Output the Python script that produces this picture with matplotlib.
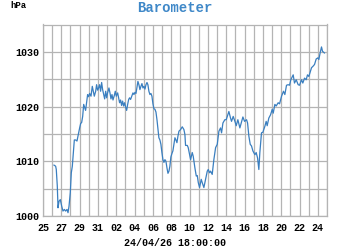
import datetime as dt
import matplotlib
matplotlib.use("Agg")
import matplotlib.pyplot as plt
import matplotlib.dates as mdates
from matplotlib.ticker import MultipleLocator

# ---- data (days since 2026-03-25 00:00, pressure in hPa) ----
days = [1.20, 1.38, 1.45, 1.56, 1.64, 1.75, 1.89, 2.04, 2.18, 2.33, 2.47, 2.62, 2.73, 2.84, 2.98,
        3.09, 3.20, 3.31, 3.42, 3.56, 3.71, 3.85, 4.00, 4.11, 4.22, 4.33, 4.44, 4.55, 4.65, 4.76,
        4.87, 4.98, 5.09, 5.24, 5.38, 5.49, 5.60, 5.75, 5.85, 5.96, 6.07, 6.18, 6.29, 6.40, 6.51,
        6.62, 6.73, 6.84, 6.95, 7.05, 7.20, 7.31, 7.42, 7.53, 7.64, 7.78, 7.89, 8.00, 8.15, 8.25,
        8.36, 8.47, 8.58, 8.69, 8.80, 8.91, 9.02, 9.13, 9.24, 9.35, 9.45, 9.56, 9.67, 9.82, 9.93,
        10.04, 10.15, 10.25, 10.36, 10.47, 10.58, 10.69, 10.80, 10.91, 11.02, 11.13, 11.24, 11.35,
        11.45, 11.56, 11.67, 11.78, 11.89, 12.00, 12.11, 12.22, 12.33, 12.44, 12.55, 12.65, 12.76,
        12.87, 12.98, 13.09, 13.20, 13.31, 13.42, 13.53, 13.64, 13.75, 13.85, 13.96, 14.07, 14.18,
        14.29, 14.40, 14.51, 14.62, 14.73, 14.84,
        15.02, 15.20, 15.38, 15.49, 15.56, 15.75, 15.85, 16.11, 16.29, 16.40, 16.58, 16.73, 16.84,
        16.95, 17.09, 17.27, 17.38, 17.56, 17.75, 17.93, 18.04, 18.18, 18.29, 18.47, 18.65, 18.84,
        19.02, 19.20, 19.38, 19.49, 19.64, 19.85, 20.00, 20.29, 20.47, 20.58, 20.76, 20.95, 21.09,
        21.27, 21.49, 21.64, 21.82, 22.00, 22.22, 22.33, 22.47, 22.62, 22.76, 22.91, 23.13, 23.27,
        23.42, 23.56, 23.67, 23.85, 24.00, 24.22, 24.36, 24.47, 24.65, 24.84, 25.02, 25.13, 25.31,
        25.45, 25.67, 25.82, 26.04, 26.25, 26.40, 26.58, 26.76, 26.91, 27.05, 27.31, 27.45, 27.64,
        27.85, 28.00, 28.22, 28.36, 28.55, 28.73, 28.87, 29.02, 29.31, 29.49, 29.64, 29.82, 30.00,
        30.11, 30.25, 30.40, 30.51, 30.72]

pressure = [1009.3, 1009.1, 1008.5, 1005.5, 1001.5, 1002.7, 1003.0, 1001.8, 1000.9, 1001.2, 1000.9,
            1001.2, 1000.6, 1001.8, 1004.3, 1007.9, 1009.1, 1011.5, 1013.9, 1013.9, 1013.7, 1014.9,
            1016.1, 1016.9, 1017.1, 1018.2, 1020.4, 1019.8, 1019.3, 1020.7, 1022.2, 1021.8, 1022.4,
            1021.9, 1023.7, 1022.8, 1021.9, 1022.8, 1024.0, 1023.0, 1023.4, 1024.0, 1022.8, 1024.4,
            1023.1, 1022.2, 1021.4, 1022.8, 1021.6, 1022.5, 1023.4, 1022.5, 1021.4, 1022.2, 1021.2,
            1022.0, 1022.8, 1021.9, 1022.5, 1021.6, 1020.7, 1021.2, 1020.2, 1021.0, 1020.1, 1020.7,
            1019.9, 1019.3, 1020.4, 1021.3, 1021.6, 1021.3, 1021.8, 1022.5, 1022.2, 1022.6, 1022.4,
            1023.4, 1024.6, 1024.0, 1023.1, 1023.7, 1024.2, 1023.4, 1023.7, 1023.2, 1024.0, 1024.4,
            1024.0, 1022.8, 1022.2, 1022.4, 1021.9, 1020.5, 1019.6, 1019.5, 1019.0, 1017.6, 1015.8,
            1014.3, 1013.9, 1013.1, 1011.6, 1010.3, 1009.8, 1010.3, 1010.0, 1008.8, 1007.8, 1008.2,
            1009.1, 1010.8, 1011.4, 1011.9, 1013.1, 1014.3, 1013.9, 1013.4, 1014.6, 1015.5,
            1015.8, 1016.3, 1015.8, 1014.9, 1012.9, 1012.9, 1012.5, 1010.3, 1011.6, 1010.9, 1008.8,
            1007.3, 1007.4, 1006.1, 1005.2, 1006.7, 1006.1, 1005.2, 1006.7, 1008.2, 1008.5, 1007.9,
            1008.2, 1007.6, 1010.3, 1012.5, 1013.1, 1015.5, 1016.1, 1015.2, 1017.0, 1017.6, 1017.6,
            1019.1, 1017.9, 1017.3, 1018.2, 1017.3, 1016.5, 1017.6, 1016.1, 1017.0, 1018.1, 1017.3,
            1017.6, 1017.0, 1014.6, 1013.1, 1012.8, 1011.9, 1011.2, 1011.6, 1010.6, 1008.5, 1011.6,
            1015.2, 1015.3, 1016.4, 1017.3, 1016.5, 1017.9, 1018.5, 1019.5, 1018.8, 1020.4, 1020.1,
            1020.7, 1020.5, 1021.9, 1022.8, 1022.2, 1023.9, 1024.0, 1023.9, 1024.9, 1025.8, 1024.3,
            1024.9, 1024.0, 1023.9, 1024.9, 1024.3, 1025.2, 1024.9, 1025.8, 1025.5, 1027.1, 1027.4,
            1027.7, 1028.7, 1028.9, 1028.6, 1029.8, 1030.9, 1030.1, 1029.8]

start_date = dt.datetime(2026, 3, 25)
end_date = dt.datetime(2026, 4, 25)
title = "Barometer"
unit_label = "hPa"
stamp = "24/04/26 18:00:00"
y_min, y_max = 1000, 1035

times = [start_date + dt.timedelta(days=d) for d in days]

FONT = ["Liberation Mono", "DejaVu Sans Mono"]
LINE_C = "#3a7fc0"
GRID_C = "#b4b4b4"

fig = plt.figure(figsize=(3.5, 2.5), dpi=100)
ax = fig.add_axes([43 / 350, 1 - 216 / 250, (327 - 43) / 350, (216 - 24.5) / 250])

ax.plot(times, pressure, color=LINE_C, lw=0.9)

ax.set_xlim(start_date, end_date)
ax.set_ylim(y_min, y_max)

ax.xaxis.set_major_locator(mdates.DayLocator(interval=2))
ax.xaxis.set_minor_locator(mdates.DayLocator())
ax.xaxis.set_major_formatter(mdates.DateFormatter("%d"))
ax.yaxis.set_major_locator(MultipleLocator(10))
ax.yaxis.set_minor_locator(MultipleLocator(5))

ax.grid(True, which="both", color=GRID_C, lw=0.9)
ax.set_axisbelow(True)
for s in ax.spines.values():
    s.set_color(GRID_C)
    s.set_linewidth(0.9)

ax.tick_params(which="both", length=0)
ax.tick_params(axis="x", pad=5)
ax.tick_params(axis="y", pad=3)
for lab in ax.get_xticklabels() + ax.get_yticklabels():
    lab.set_fontfamily(FONT)
    lab.set_fontweight("bold")
    lab.set_fontsize(7.2)

fig.text(0.5, 1 - 8 / 250, title, ha="center", va="center", color="#3f88c8",
         family=FONT, fontweight="bold", fontsize=10)
fig.text(10 / 350, 1 - 6 / 250, unit_label, ha="left", va="center", color="black",
         family=FONT, fontweight="bold", fontsize=6.5)
fig.text(0.5, 1 - 243 / 250, stamp, ha="center", va="center", color="black",
         family=FONT, fontweight="bold", fontsize=7.2)

fig.savefig("out.png", dpi=100)
